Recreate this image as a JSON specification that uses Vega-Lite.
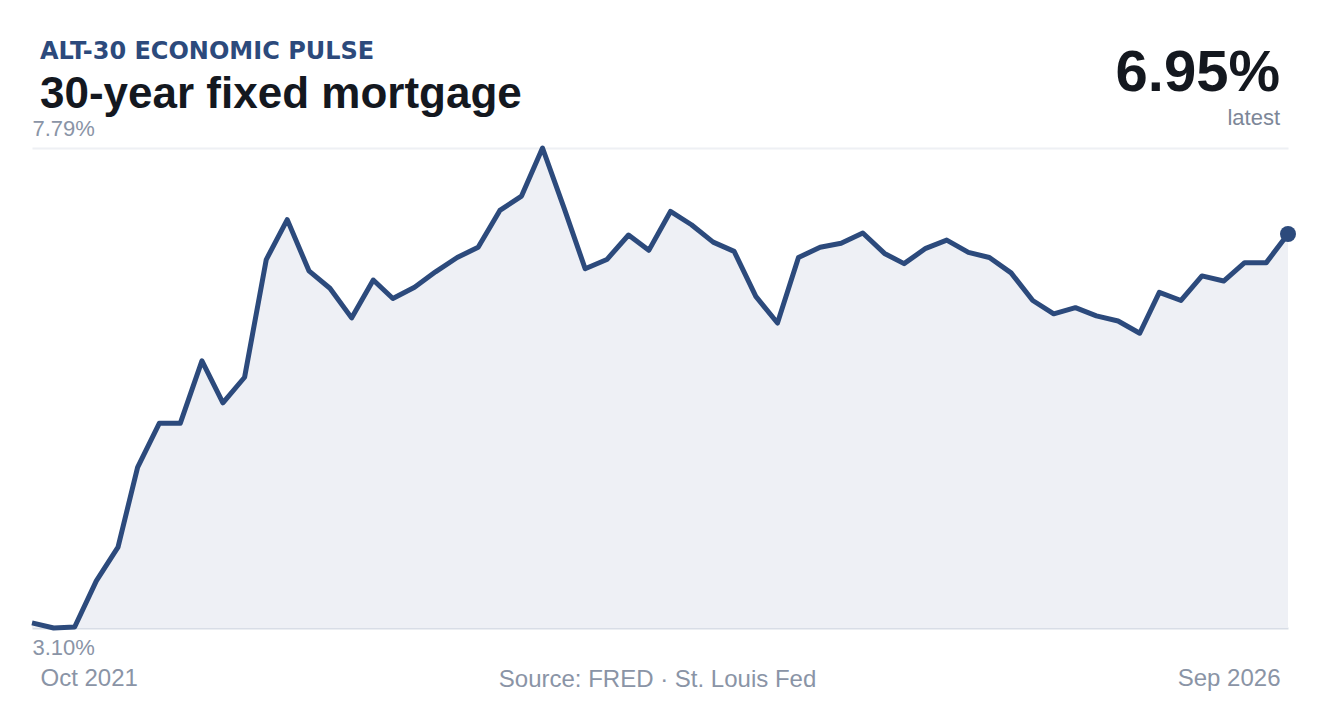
{
  "$schema": "https://vega.github.io/schema/vega-lite/v6.json",
  "width": 1256,
  "height": 480,
  "autosize": "none",
  "padding": {"left": 32, "top": 148, "right": 32, "bottom": 92},
  "background": "white",
  "title": {
    "text": "ALT-30 ECONOMIC PULSE",
    "subtitle": "30-year fixed mortgage",
    "anchor": "start",
    "frame": "group",
    "dx": 8,
    "offset": -72,
    "font": "DejaVu Sans",
    "fontSize": 24,
    "fontWeight": "bold",
    "color": "#2c4a7c",
    "subtitleFont": "Liberation Sans",
    "subtitleFontSize": 44,
    "subtitleFontWeight": "bold",
    "subtitleColor": "#14181f",
    "subtitlePadding": 9
  },
  "datasets": {
    "rates": [
      {"date": "2021-10-01", "rate": 3.15}, {"date": "2021-11-01", "rate": 3.10}, {"date": "2021-12-01", "rate": 3.11},
      {"date": "2022-01-01", "rate": 3.56}, {"date": "2022-02-01", "rate": 3.89}, {"date": "2022-03-01", "rate": 4.67},
      {"date": "2022-04-01", "rate": 5.10}, {"date": "2022-05-01", "rate": 5.10}, {"date": "2022-06-01", "rate": 5.71},
      {"date": "2022-07-01", "rate": 5.30}, {"date": "2022-08-01", "rate": 5.55}, {"date": "2022-09-01", "rate": 6.70},
      {"date": "2022-10-01", "rate": 7.09}, {"date": "2022-11-01", "rate": 6.59}, {"date": "2022-12-01", "rate": 6.42},
      {"date": "2023-01-01", "rate": 6.13}, {"date": "2023-02-01", "rate": 6.50}, {"date": "2023-03-01", "rate": 6.32},
      {"date": "2023-04-01", "rate": 6.43}, {"date": "2023-05-01", "rate": 6.58}, {"date": "2023-06-01", "rate": 6.72},
      {"date": "2023-07-01", "rate": 6.82}, {"date": "2023-08-01", "rate": 7.18}, {"date": "2023-09-01", "rate": 7.32},
      {"date": "2023-10-01", "rate": 7.79}, {"date": "2023-11-01", "rate": 7.20}, {"date": "2023-12-01", "rate": 6.61},
      {"date": "2024-01-01", "rate": 6.70}, {"date": "2024-02-01", "rate": 6.94}, {"date": "2024-03-01", "rate": 6.79},
      {"date": "2024-04-01", "rate": 7.17}, {"date": "2024-05-01", "rate": 7.04}, {"date": "2024-06-01", "rate": 6.87},
      {"date": "2024-07-01", "rate": 6.78}, {"date": "2024-08-01", "rate": 6.34}, {"date": "2024-09-01", "rate": 6.08},
      {"date": "2024-10-01", "rate": 6.72}, {"date": "2024-11-01", "rate": 6.82}, {"date": "2024-12-01", "rate": 6.86},
      {"date": "2025-01-01", "rate": 6.96}, {"date": "2025-02-01", "rate": 6.76}, {"date": "2025-03-01", "rate": 6.66},
      {"date": "2025-04-01", "rate": 6.81}, {"date": "2025-05-01", "rate": 6.89}, {"date": "2025-06-01", "rate": 6.77},
      {"date": "2025-07-01", "rate": 6.72}, {"date": "2025-08-01", "rate": 6.57}, {"date": "2025-09-01", "rate": 6.30},
      {"date": "2025-10-01", "rate": 6.17}, {"date": "2025-11-01", "rate": 6.23}, {"date": "2025-12-01", "rate": 6.15},
      {"date": "2026-01-01", "rate": 6.10}, {"date": "2026-02-01", "rate": 5.98}, {"date": "2026-03-01", "rate": 6.38},
      {"date": "2026-04-01", "rate": 6.30}, {"date": "2026-05-01", "rate": 6.54}, {"date": "2026-06-01", "rate": 6.49},
      {"date": "2026-07-01", "rate": 6.67}, {"date": "2026-08-01", "rate": 6.67}, {"date": "2026-09-01", "rate": 6.95}
    ]
  },
  "data": {"name": "rates"},
  "encoding": {
    "x": {
      "field": "date",
      "type": "temporal",
      "scale": {"nice": false},
      "axis": {
        "title": "Source: FRED · St. Louis Fed",
        "titleFont": "Liberation Sans",
        "titleFontSize": 24,
        "titleFontWeight": "normal",
        "titleColor": "#8a94a6",
        "titleAnchor": "middle",
        "titleBaseline": "alphabetic",
        "titleY": 58,
        "titleX": 625,
        "values": ["2021-10-01", "2026-09-01"],
        "format": "%b %Y",
        "grid": false,
        "domain": false,
        "ticks": false,
        "labelFont": "Liberation Sans",
        "labelFontSize": 24,
        "labelColor": "#8a94a6",
        "labelPadding": 38,
        "labelFlush": true,
        "labelOffset": {"condition": {"test": "year(datum.value) < 2024", "value": 8}, "value": -8}
      }
    },
    "y": {
      "field": "rate",
      "type": "quantitative",
      "scale": {"domain": [3.1, 7.79], "nice": false, "zero": false},
      "axis": {
        "title": null,
        "values": [3.1, 7.79],
        "format": ".2f",
        "labelExpr": "datum.label + '%'",
        "orient": "left",
        "domain": false,
        "ticks": false,
        "grid": true,
        "gridWidth": 2,
        "gridColor": {"condition": {"test": "datum.value < 5", "value": "#d8dde6"}, "value": "#eef0f4"},
        "labelFont": "Liberation Sans",
        "labelFontSize": 22,
        "labelColor": "#8a94a6",
        "labelAlign": "left",
        "labelPadding": 0,
        "labelBaseline": "alphabetic",
        "labelOffset": {"condition": {"test": "datum.value < 5", "value": 26}, "value": -13}
      }
    }
  },
  "layer": [
    {
      "mark": {"type": "area", "color": "#eef0f5"},
      "encoding": {"y2": {"datum": 3.1}}
    },
    {"mark": {"type": "line", "color": "#2c4a7c", "strokeWidth": 5, "strokeJoin": "round"}},
    {
      "transform": [{"filter": "year(datum.date) == 2026 && month(datum.date) == 8"}],
      "mark": {"type": "point", "filled": true, "opacity": 1, "size": 256, "color": "#2c4a7c"}
    },
    {
      "transform": [{"filter": "year(datum.date) == 2026 && month(datum.date) == 8"}],
      "mark": {"type": "text", "align": "right", "baseline": "alphabetic", "dx": -8, "dy": -57, "font": "Liberation Sans", "fontSize": 58, "fontWeight": "bold", "color": "#14181f"},
      "encoding": {
        "y": {"datum": 7.79},
        "text": {"value": "6.95%"}
      }
    },
    {
      "transform": [{"filter": "year(datum.date) == 2026 && month(datum.date) == 8"}],
      "mark": {"type": "text", "align": "right", "baseline": "alphabetic", "dx": -8, "dy": -23, "font": "Liberation Sans", "fontSize": 22, "color": "#7d8798"},
      "encoding": {
        "y": {"datum": 7.79},
        "text": {"value": "latest"}
      }
    }
  ],
  "config": {"view": {"stroke": null}}
}
